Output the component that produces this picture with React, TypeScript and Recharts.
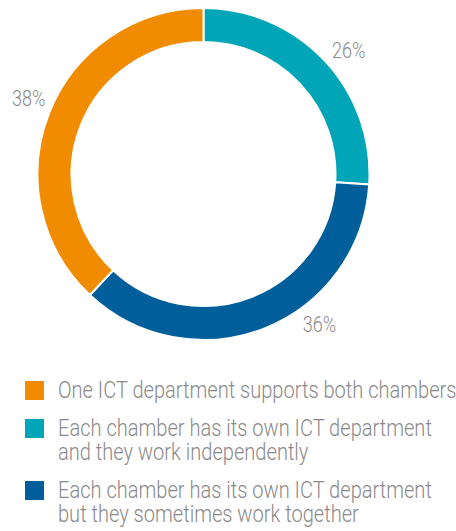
import React from "react";
import { PieChart, Pie, Cell, Legend } from "recharts";

const categories = [
  "Each chamber has its own ICT department and they work independently",
  "Each chamber has its own ICT department but they sometimes work together",
  "One ICT department supports both chambers",
];
const values = [26, 36, 38];
const colors = ["#00a5b7", "#005e9b", "#f18b00"];
const legendOrder = [2, 0, 1];

const data = categories.map((name, i) => ({ name, value: values[i], color: colors[i] }));

const RAD = Math.PI / 180;
const TEXT = "#8a8a8a";
const FONT = "Roboto, 'Liberation Sans', sans-serif";

const renderLabel = (props: any) => {
  const { cx, cy, midAngle, index, percent } = props;
  const nudge = index === 1 ? 16 : index === 0 ? -3 : -1.5;
  const a = (midAngle + nudge) * RAD;
  const r = 190;
  const x = cx + r * Math.cos(a);
  const y = cy - r * Math.sin(a);
  return (
    <text
      transform={`translate(${x},${y}) scale(0.84,1)`}
      textAnchor="middle"
      dominantBaseline="central"
      fill={TEXT}
      fontFamily={FONT}
      fontWeight={300}
      fontSize={21.5}
    >
      {`${Math.round(percent * 100)}%`}
    </text>
  );
};

const renderLegend = () => (
  <div>
    {legendOrder.map((i, k) => (
      <div
        key={i}
        style={{ position: "relative", marginBottom: k < legendOrder.length - 1 ? 14 : 0 }}
      >
        <div
          style={{
            position: "absolute",
            left: 0,
            top: 2,
            width: 19,
            height: 19,
            background: colors[i],
          }}
        />
        <div
          style={{
            marginLeft: 33,
            width: 465,
            transform: "scaleX(0.872)",
            transformOrigin: "left top",
            fontFamily: FONT,
            fontWeight: 300,
            fontSize: 23,
            lineHeight: "24px",
            color: TEXT,
            whiteSpace: "normal",
          }}
        >
          {categories[i]}
        </div>
      </div>
    ))}
  </div>
);

export default function App() {
  return (
    <div style={{ position: "absolute", left: 0, top: 0, width: 456, height: 531, background: "#fff", overflow: "hidden" }}>
      <PieChart width={456} height={531} margin={{ top: 0, right: 0, bottom: 0, left: 0 }}>
        <Pie
          data={data}
          dataKey="value"
          nameKey="name"
          cx={203.5}
          cy={174}
          innerRadius={132}
          outerRadius={166}
          startAngle={90}
          endAngle={-270}
          stroke="#ffffff"
          strokeWidth={2}
          label={renderLabel}
          labelLine={false}
          isAnimationActive={false}
        >
          {data.map((d, i) => (
            <Cell key={i} fill={d.color} />
          ))}
        </Pie>
        <Legend
          content={renderLegend}
          wrapperStyle={{ position: "absolute", top: 379, left: 25, width: 431 }}
        />
      </PieChart>
    </div>
  );
}
